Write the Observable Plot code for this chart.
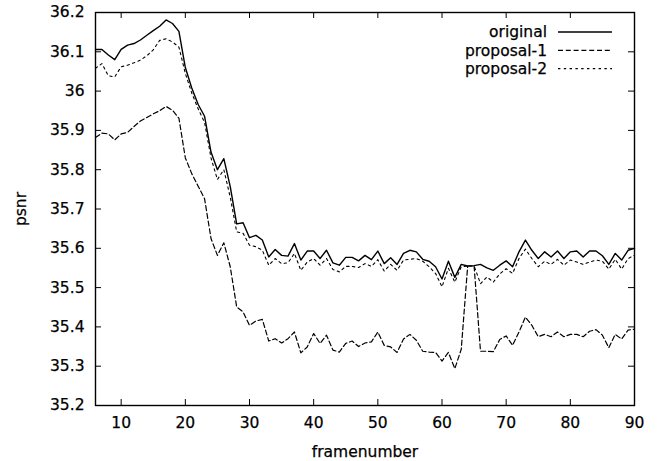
<!DOCTYPE html>
<html>
<head>
<meta charset="utf-8">
<script src="https://cdn.jsdelivr.net/npm/d3@7"></script>
<script src="https://cdn.jsdelivr.net/npm/@observablehq/plot@0.6"></script>
<style>
  html, body { margin: 0; padding: 0; background: #fff; }
  #chart { width: 658px; height: 461px; overflow: hidden; }
  #chart svg text { stroke: #000; stroke-width: 0.25px; }
</style>
</head>
<body>
<div id="chart"></div>
<script>
const frames = [6,7,8,9,10,11,12,13,14,15,16,17,18,19,20,21,22,23,24,25,26,27,28,29,30,31,32,33,34,35,36,37,38,39,40,41,42,43,44,45,46,47,48,49,50,51,52,53,54,55,56,57,58,59,60,61,62,63,64,65,66,67,68,69,70,71,72,73,74,75,76,77,78,79,80,81,82,83,84,85,86,87,88,89,90];

const original = [
  36.106, 36.106, 36.092, 36.080, 36.106, 36.117, 36.121, 36.130, 36.142, 36.154,
  36.165, 36.181, 36.172, 36.152, 36.060, 36.008, 35.966, 35.936, 35.845, 35.800,
  35.828, 35.757, 35.662, 35.665, 35.627, 35.633, 35.621, 35.578, 35.597, 35.582,
  35.580, 35.612, 35.570, 35.593, 35.593, 35.574, 35.595, 35.563, 35.557, 35.577,
  35.577, 35.568, 35.582, 35.571, 35.593, 35.561, 35.576, 35.559, 35.587, 35.595,
  35.591, 35.572, 35.567, 35.553, 35.522, 35.567, 35.526, 35.559, 35.555, 35.556,
  35.559, 35.550, 35.544, 35.557, 35.568, 35.553, 35.591, 35.621, 35.595, 35.574,
  35.591, 35.578, 35.593, 35.574, 35.591, 35.593, 35.578, 35.593, 35.593, 35.581,
  35.559, 35.587, 35.570, 35.595, 35.600
];

const proposal1 = [
  35.882, 35.893, 35.891, 35.876, 35.891, 35.895, 35.910, 35.924, 35.933, 35.942,
  35.950, 35.961, 35.951, 35.931, 35.830, 35.790, 35.758, 35.726, 35.625, 35.582,
  35.614, 35.553, 35.451, 35.438, 35.404, 35.415, 35.419, 35.364, 35.370, 35.359,
  35.370, 35.387, 35.334, 35.349, 35.383, 35.358, 35.379, 35.341, 35.336, 35.358,
  35.364, 35.350, 35.359, 35.362, 35.387, 35.353, 35.349, 35.335, 35.369, 35.381,
  35.366, 35.338, 35.336, 35.335, 35.313, 35.335, 35.294, 35.343, 35.555, 35.555,
  35.338, 35.338, 35.337, 35.368, 35.377, 35.353, 35.387, 35.425, 35.404, 35.375,
  35.381, 35.375, 35.387, 35.375, 35.381, 35.381, 35.375, 35.389, 35.393, 35.379,
  35.347, 35.381, 35.369, 35.392, 35.394
];

const proposal2 = [
  36.058, 36.070, 36.039, 36.036, 36.062, 36.066, 36.072, 36.079, 36.090, 36.105,
  36.129, 36.133, 36.125, 36.112, 36.045, 35.995, 35.955, 35.920, 35.830, 35.775,
  35.800, 35.730, 35.642, 35.638, 35.608, 35.604, 35.595, 35.557, 35.574, 35.561,
  35.563, 35.587, 35.544, 35.565, 35.574, 35.557, 35.574, 35.546, 35.540, 35.554,
  35.554, 35.551, 35.561, 35.554, 35.571, 35.542, 35.559, 35.544, 35.570, 35.572,
  35.574, 35.567, 35.553, 35.536, 35.502, 35.549, 35.514, 35.553, 35.555, 35.555,
  35.510, 35.527, 35.514, 35.535, 35.548, 35.536, 35.574, 35.598, 35.574, 35.553,
  35.567, 35.559, 35.572, 35.557, 35.570, 35.565, 35.559, 35.565, 35.570, 35.567,
  35.547, 35.572, 35.547, 35.574, 35.582
];

const seriesNames = ["original", "proposal-1", "proposal-2"];
const xTicks = [10, 20, 30, 40, 50, 60, 70, 80, 90];
const yTicks = [35.2, 35.3, 35.4, 35.5, 35.6, 35.7, 35.8, 35.9, 36.0, 36.1, 36.2];
const yTickLabels = ["35.2", "35.3", "35.4", "35.5", "35.6", "35.7", "35.8", "35.9", "36", "36.1", "36.2"];
const xLabel = "framenumber";
const yLabel = "psnr";

// styles (kept apart from the data)
const W = 658, H = 461;
const M = {left: 95, right: 24, top: 12, bottom: 56};
const innerW = W - M.left - M.right;
const innerH = H - M.top - M.bottom;
const tickLen = 6;
const FONT = "'DejaVu Sans', Verdana, sans-serif";
const FS = 15.5;
const lineStyles = [
  {strokeWidth: 1.4, dash: null},
  {strokeWidth: 1.2, dash: "5,2.8"},
  {strokeWidth: 1.1, dash: "2.4,3.4"}
];

const seriesValues = [original, proposal1, proposal2];
const tables = seriesValues.map((vals, s) =>
  frames.map((f, i) => ({frame: f, value: vals[i], series: seriesNames[s]}))
);

const labelOf = new Map(yTicks.map((t, i) => [t, yTickLabels[i]]));

const chart = Plot.plot({
  width: W,
  height: H,
  marginLeft: M.left,
  marginRight: M.right,
  marginTop: M.top,
  marginBottom: M.bottom,
  style: {fontFamily: FONT, fontSize: FS + "px", color: "#000", background: "#fff", overflow: "visible"},
  x: {domain: [6, 90]},
  y: {domain: [35.2, 36.2]},
  marks: [
    Plot.axisX(xTicks, {tickSize: 0, tickPadding: 11, label: xLabel, labelAnchor: "center", labelOffset: 51, labelArrow: "none", fontSize: FS}),
    Plot.axisY(yTicks, {tickSize: 0, tickPadding: 11, tickFormat: d => labelOf.get(d), label: yLabel, labelAnchor: "center", labelOffset: 81, labelArrow: "none", fontSize: FS}),
    ...tables.map((t, s) => Plot.line(t, {
      x: "frame", y: "value", stroke: "#000",
      strokeWidth: lineStyles[s].strokeWidth,
      strokeDasharray: lineStyles[s].dash
    })),
    Plot.tickX(xTicks, {x: d => d, insetTop: innerH - tickLen, stroke: "#000"}),
    Plot.tickX(xTicks, {x: d => d, insetBottom: innerH - tickLen, stroke: "#000"}),
    Plot.tickY(yTicks, {y: d => d, insetRight: innerW - tickLen, stroke: "#000"}),
    Plot.tickY(yTicks, {y: d => d, insetLeft: innerW - tickLen, stroke: "#000"}),
    Plot.frame({stroke: "#000", strokeWidth: 1.4})
  ]
});

// legend (top-right, inside the frame)
const svg = d3.select(chart);
const lg = svg.append("g").attr("font-family", FONT).attr("font-size", FS).attr("fill", "#000");
seriesNames.forEach((name, i) => {
  const y = 32 + i * 18.3;
  lg.append("text")
    .attr("x", 547).attr("y", y).attr("dy", "0.35em")
    .attr("text-anchor", "end")
    .text(name);
  lg.append("line")
    .attr("x1", 558).attr("x2", 612).attr("y1", y).attr("y2", y)
    .attr("stroke", "#000")
    .attr("stroke-width", lineStyles[i].strokeWidth)
    .attr("stroke-dasharray", lineStyles[i].dash);
});

document.getElementById("chart").appendChild(chart);
</script>
</body>
</html>
